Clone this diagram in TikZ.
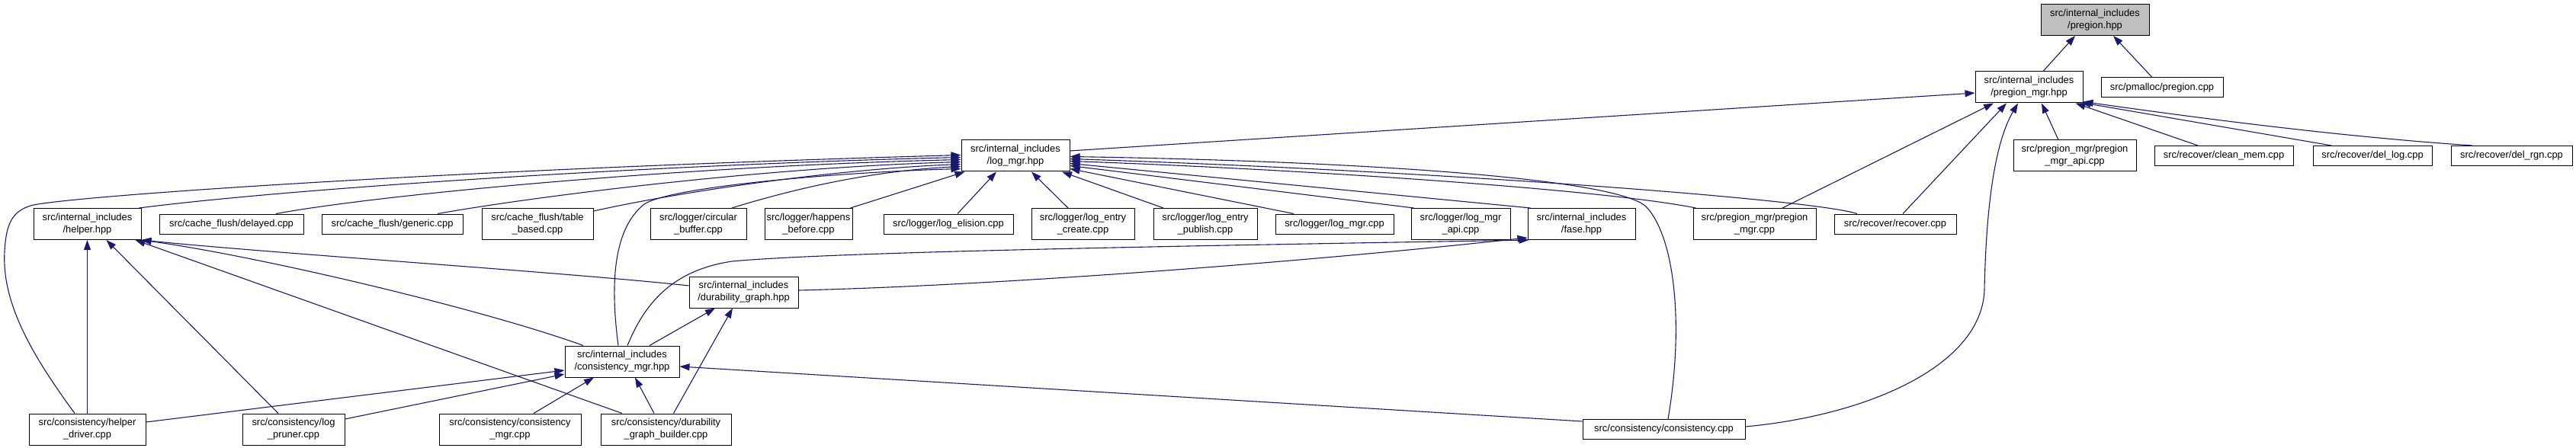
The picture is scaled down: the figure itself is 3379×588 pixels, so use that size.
\documentclass[tikz,border=0pt]{standalone}
\usepackage{fontspec}
\setmainfont{Liberation Sans}
\usepackage{tikz}
\usetikzlibrary{arrows.meta}
\definecolor{depblue}{HTML}{191970}
\definecolor{hdrgray}{HTML}{BFBFBF}
\tikzset{
  file/.style={draw=black,line width=1pt,fill=white,inner sep=0pt,align=center,font=\fontsize{12.9}{16}\selectfont},
  tall/.style={minimum height=41pt},
  flat/.style={minimum height=26pt},
  dep/.style={depblue,line width=1.1pt,-{Triangle[length=13pt,width=9pt]}}
}
\begin{document}
\begin{tikzpicture}[x=1pt,y=1pt]
\useasboundingbox (0,0) rectangle (3379,-588);
\node[file,tall,fill=hdrgray,minimum width=142pt] (pregionh) at (2748,-26) {src/internal\_includes\\/pregion.hpp};
\node[file,tall,minimum width=141pt] (pregionmgrh) at (2661.5,-114.5) {src/internal\_includes\\/pregion\_mgr.hpp};
\node[file,flat,minimum width=160pt] (pmalloc) at (2836,-115) {src/pmalloc/pregion.cpp};
\node[file,tall,minimum width=142pt] (logmgrh) at (1332,-204.5) {src/internal\_includes\\/log\_mgr.hpp};
\node[file,tall,minimum width=161pt] (pmgrapi) at (2721.5,-204.5) {src/pregion\_mgr/pregion\\\_mgr\_api.cpp};
\node[file,flat,minimum width=182pt] (cleanmem) at (2917,-204.5) {src/recover/clean\_mem.cpp};
\node[file,flat,minimum width=156pt] (dellog) at (3112,-204.5) {src/recover/del\_log.cpp};
\node[file,flat,minimum width=159pt] (delrgn) at (3294.5,-204.5) {src/recover/del\_rgn.cpp};
\node[file,tall,minimum width=141pt] (helperh) at (114.5,-294) {src/internal\_includes\\/helper.hpp};
\node[file,flat,minimum width=189pt] (delayed) at (303.5,-294) {src/cache\_flush/delayed.cpp};
\node[file,flat,minimum width=185pt] (generic) at (514.5,-294) {src/cache\_flush/generic.cpp};
\node[file,tall,minimum width=146pt] (tablebased) at (705,-294) {src/cache\_flush/table\\\_based.cpp};
\node[file,tall,minimum width=126pt] (circular) at (916,-294) {src/logger/circular\\\_buffer.cpp};
\node[file,tall,minimum width=115pt] (happens) at (1060.5,-294) {src/logger/happens\\\_before.cpp};
\node[file,flat,minimum width=170pt] (elision) at (1244,-294) {src/logger/log\_elision.cpp};
\node[file,tall,minimum width=135pt] (entrycreate) at (1420.5,-294) {src/logger/log\_entry\\\_create.cpp};
\node[file,tall,minimum width=136pt] (entrypublish) at (1581,-294) {src/logger/log\_entry\\\_publish.cpp};
\node[file,flat,minimum width=155pt] (logmgrcpp) at (1750.5,-294) {src/logger/log\_mgr.cpp};
\node[file,tall,minimum width=130pt] (logmgrapi) at (1916,-294) {src/logger/log\_mgr\\\_api.cpp};
\node[file,tall,minimum width=141pt] (faseh) at (2074.5,-294) {src/internal\_includes\\/fase.hpp};
\node[file,tall,minimum width=161pt] (pmgrcpp) at (2301.5,-294) {src/pregion\_mgr/pregion\\\_mgr.cpp};
\node[file,flat,minimum width=160pt] (recover) at (2486,-294) {src/recover/recover.cpp};
\node[file,tall,minimum width=143pt] (durgraphh) at (975.5,-383.5) {src/internal\_includes\\/durability\_graph.hpp};
\node[file,tall,minimum width=150pt] (consmgrh) at (816,-474.5) {src/internal\_includes\\/consistency\_mgr.hpp};
\node[file,tall,minimum width=153pt] (helperdriver) at (114.5,-563.5) {src/consistency/helper\\\_driver.cpp};
\node[file,tall,minimum width=134pt] (logpruner) at (385,-563.5) {src/consistency/log\\\_pruner.cpp};
\node[file,tall,minimum width=186pt] (consmgrcpp) at (669,-563.5) {src/consistency/consistency\\\_mgr.cpp};
\node[file,tall,minimum width=171pt] (durbuilder) at (873.5,-563.5) {src/consistency/durability\\\_graph\_builder.cpp};
\node[file,flat,minimum width=213pt] (consistency) at (2182.5,-563.5) {src/consistency/consistency.cpp};

\draw[dep] ([xshift=18.5pt]pregionmgrh.north) -- ([xshift=-26pt]pregionh.south);
\draw[dep] ([xshift=-13pt]pmalloc.north) -- ([xshift=24pt]pregionh.south);

\draw[dep] ([yshift=6.5pt]logmgrh.east) -- ([yshift=-7.5pt]pregionmgrh.west);
\draw[dep] ([xshift=-21.5pt]pmgrapi.north) -- ([xshift=16.5pt]pregionmgrh.south);
\draw[dep] ([xshift=-34pt]cleanmem.north) -- ([xshift=-10pt]pregionmgrh.south east);
\draw[dep] ([xshift=-54pt]dellog.north) -- ([xshift=-3pt,yshift=1pt]pregionmgrh.south east);
\draw[dep] ([xshift=-51.5pt]delrgn.north) .. controls (3050,-178) and (2850,-150) .. ([yshift=2pt]pregionmgrh.south east);
\draw[dep] ([xshift=36.5pt]pmgrcpp.north) -- ([xshift=-46.5pt]pregionmgrh.south);
\draw[dep] ([xshift=10pt]recover.north) -- ([xshift=-29.5pt]pregionmgrh.south);
\draw[dep] ([yshift=3.5pt]consistency.east) .. controls (2450,-545) and (2600,-480) .. (2603,-380)
  .. controls (2605,-280) and (2615,-190) .. ([xshift=-14.5pt]pregionmgrh.south);

\draw[dep] ([xshift=-16.5pt]helperdriver.north) .. controls (45,-470) and (2,-400) .. (6,-330)
  .. controls (8,-295) and (15,-278) .. (40,-270) .. controls (80,-258) and (600,-222) .. ([yshift=1pt]logmgrh.west);
\draw[dep] ([xshift=-3pt]helperh.north east) .. controls (400,-245) and (900,-215) .. ([yshift=-2pt]logmgrh.west);
\draw[dep] ([xshift=58.5pt]delayed.north) .. controls (500,-255) and (900,-218) .. ([yshift=-5pt]logmgrh.west);
\draw[dep] ([xshift=59.5pt]generic.north) .. controls (700,-258) and (1000,-220) .. ([yshift=-8pt]logmgrh.west);
\draw[dep] ([yshift=-4pt]tablebased.north east) .. controls (900,-250) and (1100,-222) .. ([yshift=-11pt]logmgrh.west);
\draw[dep] ([xshift=44pt]circular.north) .. controls (1050,-245) and (1150,-224) .. ([yshift=-14pt]logmgrh.west);
\draw[dep] ([xshift=-5pt]consmgrh.north) .. controls (800,-370) and (805,-300) .. (845,-268)
  .. controls (880,-245) and (1100,-226) .. ([yshift=-17pt]logmgrh.west);
\draw[dep] ([xshift=-3pt]happens.north east) -- ([xshift=5pt]logmgrh.south west);
\draw[dep] ([xshift=12pt]elision.north) -- ([xshift=-25pt]logmgrh.south);
\draw[dep] ([xshift=-19.5pt]entrycreate.north) -- ([xshift=21pt]logmgrh.south);
\draw[dep] ([xshift=-55pt]entrypublish.north) -- ([xshift=61pt]logmgrh.south);
\draw[dep] ([xshift=-53.5pt]logmgrcpp.north) -- ([yshift=-17pt]logmgrh.east);
\draw[dep] ([xshift=4pt]logmgrapi.north west) -- ([yshift=-13pt]logmgrh.east);
\draw[dep] ([xshift=4pt]faseh.north west) -- ([yshift=-10pt]logmgrh.east);
\draw[dep] ([xshift=4pt]pmgrcpp.north west) .. controls (2100,-248) and (1700,-222) .. ([yshift=-7pt]logmgrh.east);
\draw[dep] ([xshift=-50pt]recover.north) .. controls (2380,-262) and (1900,-225) .. ([yshift=-4pt]logmgrh.east);
\draw[dep] ([xshift=5.5pt]consistency.north) .. controls (2210,-420) and (2195,-310) .. (2160,-272)
  .. controls (2125,-235) and (1800,-212) .. ([yshift=-1pt]logmgrh.east);

\draw[dep] (helperdriver.north) -- (helperh.south);
\draw[dep] ([xshift=-20pt]logpruner.north) -- ([xshift=25pt]helperh.south);
\draw[dep] ([xshift=-51pt]consmgrh.north) .. controls (640,-408) and (350,-338) .. (helperh.south east);
\draw[dep] ([yshift=8.5pt]durgraphh.west) .. controls (750,-358) and (350,-332) .. (helperh.south east);
\draw[dep] ([xshift=-57.5pt]durbuilder.north) -- ([xshift=-8pt]helperh.south east);

\draw[dep] ([xshift=7pt]consmgrh.north) .. controls (845,-400) and (880,-355) .. (960,-343)
  .. controls (1100,-330) and (1600,-322) .. ([xshift=2pt]faseh.south west);
\draw[dep] ([yshift=2.5pt]durgraphh.east) .. controls (1300,-375) and (1700,-345) .. ([yshift=3pt]faseh.south west);

\draw[dep] ([xshift=36pt]consmgrh.north) -- ([xshift=-37.5pt]durgraphh.south);
\draw[dep] ([xshift=10pt]durbuilder.north) -- ([xshift=-14.5pt]durgraphh.south);

\draw[dep] ([yshift=9.5pt]helperdriver.east) -- ([yshift=-11.5pt]consmgrh.west);
\draw[dep] ([yshift=13.5pt]logpruner.east) -- ([yshift=-16.5pt]consmgrh.west);
\draw[dep] ([xshift=31pt]consmgrcpp.north) -- ([xshift=-37pt]consmgrh.south);
\draw[dep] ([xshift=-15.5pt]durbuilder.north) -- ([xshift=17pt]consmgrh.south);
\draw[dep] ([yshift=10.5pt]consistency.west) -- ([yshift=-6.5pt]consmgrh.east);
\end{tikzpicture}
\end{document}
